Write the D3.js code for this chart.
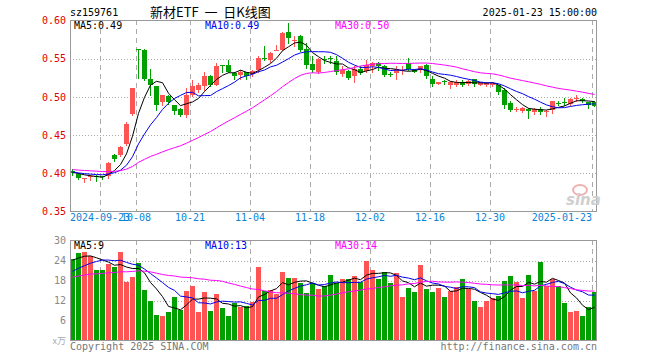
<!DOCTYPE html>
<html>
<head>
<meta charset="utf-8">
<script src="https://cdn.jsdelivr.net/npm/d3@7"></script>
<style>
body { margin: 0; background: #fff; }
svg { display: block; }
text { font-family: "DejaVu Sans Mono", monospace; font-size: 10px; }
</style>
</head>
<body>
<svg id="chart" width="660" height="360"></svg>
<script>
// trading days shown
var dates = [
  "2024-09-12","2024-09-13","2024-09-18","2024-09-19","2024-09-20","2024-09-23","2024-09-24","2024-09-25","2024-09-26","2024-09-27","2024-09-30",
  "2024-10-08","2024-10-09","2024-10-10","2024-10-11","2024-10-14","2024-10-15","2024-10-16","2024-10-17","2024-10-18","2024-10-21",
  "2024-10-22","2024-10-23","2024-10-24","2024-10-25","2024-10-28","2024-10-29","2024-10-30","2024-10-31",
  "2024-11-01","2024-11-04","2024-11-05","2024-11-06","2024-11-07","2024-11-08","2024-11-11","2024-11-12","2024-11-13","2024-11-14","2024-11-15",
  "2024-11-18","2024-11-19","2024-11-20","2024-11-21","2024-11-22","2024-11-25","2024-11-26","2024-11-27","2024-11-28","2024-11-29",
  "2024-12-02","2024-12-03","2024-12-04","2024-12-05","2024-12-06","2024-12-09","2024-12-10","2024-12-11","2024-12-12","2024-12-13",
  "2024-12-16","2024-12-17","2024-12-18","2024-12-19","2024-12-20","2024-12-23","2024-12-24","2024-12-25","2024-12-26","2024-12-27",
  "2024-12-30","2024-12-31","2025-01-02","2025-01-03","2025-01-06","2025-01-07","2025-01-08","2025-01-09","2025-01-10",
  "2025-01-13","2025-01-14","2025-01-15","2025-01-16","2025-01-17","2025-01-20","2025-01-21","2025-01-22","2025-01-23"
];

var open = [
  0.403,0.399,0.393,0.395,0.397,0.396,0.396,0.424,0.424,0.438,0.477,
  0.563,0.562,0.523,0.514,0.493,0.501,0.489,0.484,0.476,0.503,
  0.509,0.514,0.527,0.516,0.542,0.542,0.531,0.529,
  0.532,0.530,0.535,0.551,0.548,0.561,0.561,0.585,0.573,0.580,0.563,
  0.543,0.533,0.550,0.5505,0.547,0.530,0.534,0.527,0.537,0.534,
  0.540,0.545,0.540,0.530,0.531,0.5348,0.545,0.535,0.535,0.542,
  0.524,0.517,0.5203,0.516,0.515,0.519,0.517,0.523,0.516,0.515,
  0.515,0.515,0.509,0.492,0.484,0.481,0.484,0.480,0.484,
  0.480,0.483,0.4922,0.4935,0.4905,0.4979,0.4974,0.4927,0.4931
];
var high = [
  0.405,0.400,0.394,0.398,0.398,0.397,0.415,0.425,0.436,0.467,0.512,
  0.563,0.563,0.536,0.514,0.503,0.502,0.490,0.486,0.511,0.522,
  0.518,0.533,0.529,0.544,0.542,0.548,0.533,0.535,
  0.533,0.535,0.553,0.566,0.559,0.568,0.585,0.597,0.580,0.581,0.570,
  0.553,0.551,0.553,0.554,0.553,0.540,0.535,0.540,0.540,0.548,
  0.546,0.546,0.542,0.533,0.540,0.540,0.551,0.537,0.541,0.543,
  0.527,0.520,0.522,0.521,0.522,0.522,0.522,0.524,0.5195,0.520,
  0.520,0.516,0.511,0.494,0.487,0.4865,0.486,0.486,0.487,
  0.483,0.495,0.495,0.499,0.498,0.502,0.499,0.4931,0.494
];
var low = [
  0.398,0.393,0.389,0.391,0.390,0.393,0.394,0.416,0.423,0.437,0.476,
  0.525,0.522,0.503,0.483,0.490,0.491,0.477,0.475,0.474,0.501,
  0.507,0.509,0.514,0.515,0.533,0.532,0.524,0.524,
  0.524,0.528,0.533,0.548,0.546,0.561,0.561,0.571,0.566,0.560,0.538,
  0.532,0.531,0.544,0.544,0.530,0.527,0.524,0.519,0.530,0.533,
  0.533,0.535,0.527,0.527,0.524,0.530,0.535,0.532,0.532,0.525,
  0.514,0.5165,0.517,0.512,0.514,0.514,0.515,0.514,0.515,0.514,
  0.514,0.504,0.486,0.482,0.481,0.4805,0.473,0.477,0.477,
  0.475,0.479,0.489,0.489,0.4896,0.4948,0.4931,0.4853,0.488
];
var close = [
  0.400,0.394,0.394,0.396,0.395,0.395,0.413,0.419,0.435,0.465,0.511,
  0.562,0.524,0.515,0.490,0.502,0.493,0.482,0.476,0.502,0.514,
  0.516,0.527,0.516,0.541,0.541,0.533,0.527,0.533,
  0.527,0.534,0.551,0.549,0.557,0.562,0.583,0.577,0.574,0.562,0.542,
  0.535,0.550,0.549,0.5495,0.532,0.535,0.525,0.537,0.531,0.542,
  0.544,0.541,0.529,0.5293,0.537,0.5352,0.537,0.533,0.540,0.527,
  0.517,0.519,0.5198,0.519,0.520,0.515,0.521,0.517,0.519,0.518,
  0.518,0.506,0.490,0.483,0.4844,0.486,0.482,0.484,0.480,
  0.482,0.494,0.4918,0.4931,0.4974,0.4983,0.4948,0.4896,0.4887
];
// volume, 10k lots
var volume = [
  24.5,26.2,26.7,25.5,21.2,21.2,23,22,26.5,17.5,19,
  23.2,15.3,12,7.8,7.5,8.5,13,9.3,15,16.3,
  8.5,14.7,9,13.9,9.7,7.5,11.3,10,
  10.5,11.5,22,15,15.3,14,20.5,18.7,18.7,17.2,14.3,
  17.2,15.5,16.5,19.8,17.2,18.5,18.5,19.5,17.5,24,
  21.2,18.5,20.5,17.2,20.2,13,15.7,14.5,22.8,15.5,
  14.5,15.7,13.2,14.8,16.2,18.4,15.5,12,10,12,
  12.7,13.5,17.8,19.5,17.5,12.7,19.8,15,23.5,
  16.5,18.5,16.5,11.2,8.7,9,7.5,10,14.5
];
// sessions before the window, only used to seed the moving averages
var priorClose = [
  0.412,0.410,0.408,0.409,0.411,0.413,0.410,0.407,0.405,0.406,
  0.404,0.402,0.403,0.405,0.407,0.406,0.404,0.402,0.401,0.403,
  0.405,0.404,0.402,0.400,0.399,0.401,0.403,0.402,0.400
];
var priorVolume = [
  17,18,16,19,18,17,20,19,18,16,
  17,19,18,20,19,17,18,19,18,20,
  17,19,18,16,17,23,24,25,24
];

var priceTicks = [0.35, 0.40, 0.45, 0.50, 0.55, 0.60];
var volumeTicks = [6, 12, 18, 24, 30];
var dateTicks = ["2024-09-23","2024-10-08","2024-10-21","2024-11-04","2024-11-18","2024-12-02","2024-12-16","2024-12-30","2025-01-23"];
var dateLabels = ["2024-09-23","10-08","10-21","11-04","11-18","12-02","12-16","12-30","2025-01-23"];

var upColor = "#ff5454", downColor = "#00a000";
var maColors = {5: "#000000", 10: "#0000ee", 30: "#ff00ff"};

var svg = d3.select("#chart");
var left = 70, right = 598;

function ma(series, prior, n) {
  var all = prior.concat(series);
  return series.map(function(v, i) {
    var end = prior.length + i + 1;
    return d3.mean(all.slice(end - n, end));
  });
}

var x = d3.scaleBand().domain(dates).range([left, right]).padding(0);
var y = d3.scaleLinear().domain([0.35, 0.60]).range([211.5, 20.5]);
var yv = d3.scaleLinear().domain([0, 30]).range([340.5, 240.5]);

// ---- frames and grid
function panel(top, bottom, gridVals, scale) {
  var g = svg.append("g");
  g.selectAll(".hg").data(gridVals).enter().append("line")
    .attr("x1", left).attr("x2", 596)
    .attr("y1", function(d) { return Math.round(scale(d)) + 0.5; })
    .attr("y2", function(d) { return Math.round(scale(d)) + 0.5; })
    .attr("stroke", "#aaa").attr("stroke-dasharray", "1,2");
  g.selectAll(".vg").data(dateTicks).enter().append("line")
    .attr("x1", function(d) { return x(d) + 0.5; })
    .attr("x2", function(d) { return x(d) + 0.5; })
    .attr("y1", top).attr("y2", bottom)
    .attr("stroke", "#aaa").attr("stroke-dasharray", "5,4");
  return g;
}
panel(20, 212, [0.40, 0.45, 0.50, 0.55], y);
panel(240, 340, [6, 12, 18, 24], yv);

// ---- candles
var days = dates.map(function(d, i) {
  return {date: d, o: open[i], h: high[i], l: low[i], c: close[i], v: volume[i]};
});
function col(d) { return d.c >= d.o ? upColor : downColor; }

var candles = svg.append("g");
candles.selectAll("line").data(days).enter().append("line")
  .attr("x1", function(d) { return x(d.date) + 2.5; })
  .attr("x2", function(d) { return x(d.date) + 2.5; })
  .attr("y1", function(d) { return Math.round(y(d.h)); })
  .attr("y2", function(d) { return Math.round(y(d.l)) + 1; })
  .attr("stroke", col);
candles.selectAll("rect").data(days).enter().append("rect")
  .attr("x", function(d) { return x(d.date); })
  .attr("width", x.bandwidth() - 1)
  .attr("y", function(d) { return Math.round(y(Math.max(d.o, d.c))); })
  .attr("height", function(d) { return Math.max(1, Math.round(y(Math.min(d.o, d.c))) - Math.round(y(Math.max(d.o, d.c)))); })
  .attr("fill", col);

// ---- volume bars
svg.append("g").selectAll("rect").data(days).enter().append("rect")
  .attr("x", function(d) { return x(d.date); })
  .attr("width", x.bandwidth() - 1)
  .attr("y", function(d) { return Math.round(yv(d.v)); })
  .attr("height", function(d) { return 340 - Math.round(yv(d.v)); })
  .attr("fill", col);

// ---- moving averages
[5, 10, 30].forEach(function(n) {
  var pm = ma(close, priorClose, n);
  var vm = ma(volume, priorVolume, n);
  svg.append("path").datum(pm)
    .attr("d", d3.line().x(function(d, i) { return x(dates[i]) + 2.5; }).y(function(d) { return y(d); }))
    .attr("fill", "none").attr("stroke", maColors[n]).attr("stroke-width", 1);
  svg.append("path").datum(vm)
    .attr("d", d3.line().x(function(d, i) { return x(dates[i]) + 2.5; }).y(function(d) { return yv(d); }))
    .attr("fill", "none").attr("stroke", maColors[n]).attr("stroke-width", 1);
  var lx = {5: 74, 10: 205, 30: 335}[n];
  svg.append("text").attr("x", lx).attr("y", 29).attr("fill", maColors[n])
    .text("MA" + n + ":" + pm[pm.length - 1].toFixed(2));
  svg.append("text").attr("x", lx).attr("y", 249).attr("fill", maColors[n])
    .text("MA" + n + ":" + Math.floor(vm[vm.length - 1]));
});

// ---- borders
svg.append("rect").attr("x", 70.5).attr("y", 20.5).attr("width", 526).attr("height", 191)
  .attr("fill", "none").attr("stroke", "#999");
svg.append("rect").attr("x", 70.5).attr("y", 240.5).attr("width", 526).attr("height", 100)
  .attr("fill", "none").attr("stroke", "#999");

// ---- axes
var pa = svg.append("g").attr("transform", "translate(66,0)")
  .call(d3.axisLeft(y).tickValues(priceTicks).tickSize(0).tickPadding(0).tickFormat(d3.format(".2f")));
pa.select(".domain").remove();
pa.selectAll("text").attr("fill", "#e00000").style("font-family", "DejaVu Sans Mono").style("font-size", "10px");

var va = svg.append("g").attr("transform", "translate(66,0)")
  .call(d3.axisLeft(yv).tickValues(volumeTicks).tickSize(0).tickPadding(0));
va.select(".domain").remove();
va.selectAll("text").attr("fill", "#888").style("font-family", "DejaVu Sans Mono").style("font-size", "10px");
svg.append("text").attr("x", 66).attr("y", 344).attr("text-anchor", "end").attr("fill", "#aaa")
  .style("font-size", "9px").style("font-family", "Noto Sans CJK SC").text("x万");

var da = svg.append("g").attr("transform", "translate(0,214)")
  .call(d3.axisBottom(x).tickValues(dateTicks).tickSize(0).tickPadding(0)
    .tickFormat(function(d) { return dateLabels[dateTicks.indexOf(d)]; }));
da.select(".domain").remove();
da.selectAll(".tick").attr("transform", function(d) { return "translate(" + x(d) + ",0)"; });
da.selectAll("text").attr("fill", "#0a84d6").style("font-family", "DejaVu Sans Mono").style("font-size", "10px")
  .attr("text-anchor", function(d, i) { return i === dateTicks.length - 1 ? "end" : "middle"; });

// ---- header and footer
svg.append("text").attr("x", 70).attr("y", 16).attr("fill", "#000").text("sz159761");
svg.append("text").attr("x", 150).attr("y", 17).attr("fill", "#000")
  .style("font-family", "Noto Sans CJK SC").style("font-size", "13px").style("white-space", "pre")
  .text("新材ETF  一  日K线图");
svg.append("text").attr("x", 597).attr("y", 16).attr("text-anchor", "end").attr("fill", "#000").text("2025-01-23 15:00:00");
svg.append("text").attr("x", 70).attr("y", 350).attr("fill", "#777").text("Copyright 2025 SINA.COM");
svg.append("text").attr("x", 597).attr("y", 350).attr("text-anchor", "end").attr("fill", "#777").text("http://finance.sina.com.cn");

// watermark
svg.append("ellipse").attr("cx", 580).attr("cy", 190).attr("rx", 7).attr("ry", 5)
  .attr("fill", "none").attr("stroke", "#f0b0b0").attr("stroke-width", 2);
svg.append("text").attr("x", 566).attr("y", 205).attr("fill", "#cfcfcf")
  .style("font-family", "DejaVu Sans").style("font-size", "15px").style("font-style", "italic").style("font-weight", "bold")
  .text("sina");
</script>
</body>
</html>
